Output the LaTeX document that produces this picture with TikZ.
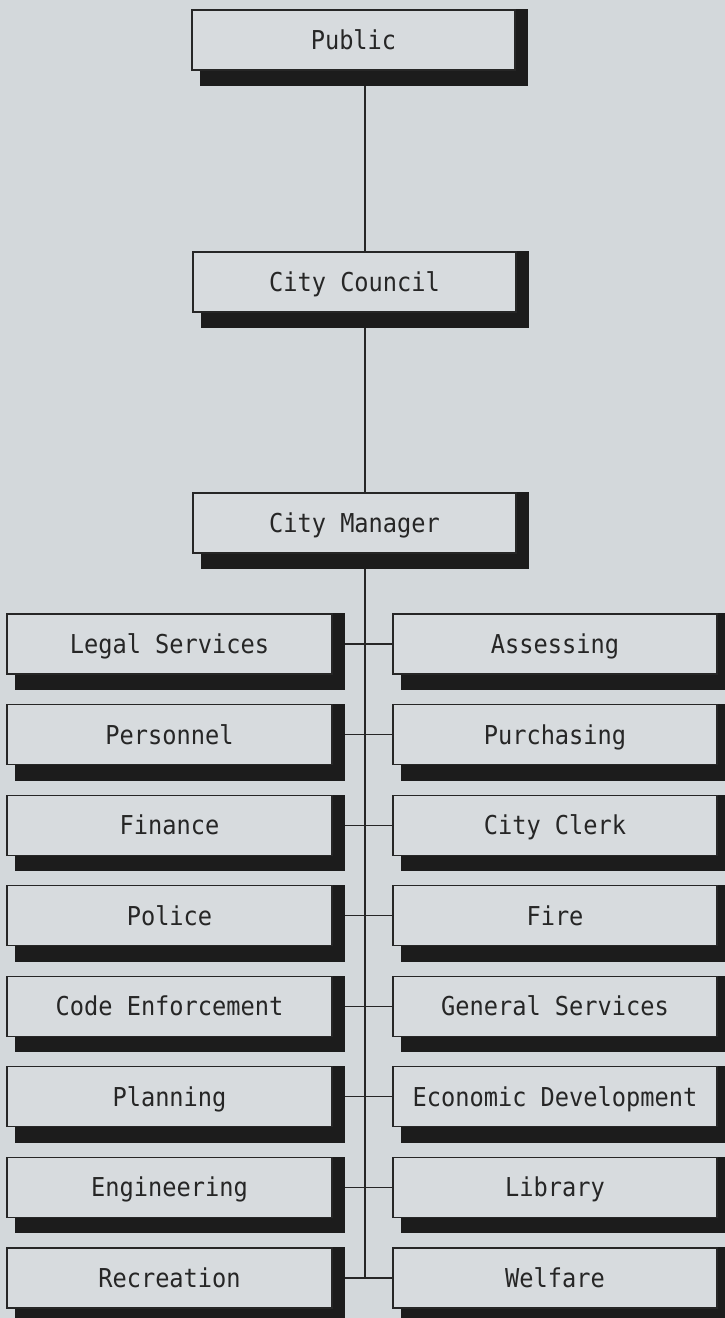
\documentclass[tikz,border=0pt]{standalone}
\usepackage{fontspec}
\newfontfamily\orgfont[FakeStretch=0.91]{DejaVu Sans Mono}
\usetikzlibrary{calc}
\definecolor{paper}{HTML}{D3D8DB}
\definecolor{boxfill}{HTML}{D7DBDE}
\definecolor{ink}{HTML}{262626}
\definecolor{shadowink}{HTML}{1C1C1C}
\pgfdeclarelayer{paperlayer}
\pgfdeclarelayer{shadowlayer}
\pgfsetlayers{paperlayer,shadowlayer,main}
\begin{document}
\begin{tikzpicture}[x=1pt,y=-1pt,
  unit/.style={draw=ink, line width=1.1pt, fill=boxfill, rectangle,
    inner sep=0pt, text=ink, text height=19pt, text depth=0pt,
    font=\orgfont\fontsize{26}{30}\selectfont},
  topunit/.style={unit, minimum width=323pt, minimum height=60pt},
  leftunit/.style={unit, minimum width=325pt, minimum height=60pt},
  rightunit/.style={unit, minimum width=324pt, minimum height=60pt},
  link/.style={draw=ink, line width=1.2pt}]
\begin{pgfonlayer}{paperlayer}
  \fill[paper] (0,0) rectangle (725,1318);
\end{pgfonlayer}
\useasboundingbox (0,0) rectangle (725,1318);

% upper chain
\node[topunit] (public)  at (353.5,40)  {Public};
\node[topunit] (council) at (354.5,282) {City Council};
\node[topunit] (manager) at (354.5,523) {City Manager};

% departments, two columns
\def\rowgap{90.57}
\foreach \name/\txt [count=\i from 0] in {
  legal/Legal Services, personnel/Personnel, finance/Finance,
  police/Police, code/Code Enforcement, planning/Planning,
  engineering/Engineering, recreation/Recreation}
  \node[leftunit] (\name) at (169.5,{644+\i*\rowgap}) {\txt};
\foreach \name/\txt [count=\i from 0] in {
  assessing/Assessing, purchasing/Purchasing, clerk/City Clerk,
  fire/Fire, general/General Services, economic/Economic Development,
  library/Library, welfare/Welfare}
  \node[rightunit] (\name) at (555,{644+\i*\rowgap}) {\txt};

% drop shadows
\begin{pgfonlayer}{shadowlayer}
  \foreach \n in {public,council,manager,legal,personnel,finance,police,
    code,planning,engineering,recreation,assessing,purchasing,clerk,fire,
    general,economic,library,welfare}
    \fill[shadowink] ([xshift=9pt]\n.north west) rectangle
      ([xshift=12.5pt,yshift=-15.5pt]\n.south east);
\end{pgfonlayer}

% trunk line
\coordinate (tx) at (365,0);
\draw[link] ([yshift=-15.5pt]public.south -| tx) -- (council.north -| tx);
\draw[link] ([yshift=-15.5pt]council.south -| tx) -- (manager.north -| tx);
\draw[link] ([yshift=-15.5pt]manager.south -| tx) -- (recreation.east -| tx);

% branches
\foreach \l/\r in {legal/assessing, personnel/purchasing, finance/clerk,
  police/fire, code/general, planning/economic, engineering/library,
  recreation/welfare}
  \draw[link] ([xshift=12.5pt]\l.east) -- (\r.west);
\end{tikzpicture}
\end{document}
